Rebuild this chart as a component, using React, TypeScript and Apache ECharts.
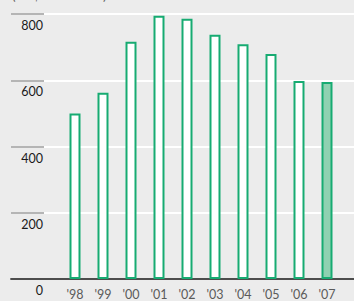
import React, { useEffect, useRef } from "react";
import * as echarts from "echarts";

const categories = ["'98", "'99", "'00", "'01", "'02", "'03", "'04", "'05", "'06", "'07"];
const values = [500, 562, 716, 795, 786, 737, 709, 679, 598, 595];
const yTicks = [0, 200, 400, 600, 800];
const unitLabel = "(US$ in millions)";

const GREEN = "#17ab72";
const FILL_LAST = "#8fd1b1";

export default function App() {
  const ref = useRef<HTMLDivElement>(null);
  useEffect(() => {
    if (!ref.current) return;
    const chart = echarts.init(ref.current, null, { renderer: "svg" });
    const yMin = yTicks[0];
    const yMax = yTicks[yTicks.length - 1];
    const step = yTicks[1] - yTicks[0];
    chart.setOption({
      animation: false,
      backgroundColor: "#ececec",
      grid: [
        { left: 11, right: 0, top: 14, bottom: 22 },
        { left: 44, right: 0, top: 14, bottom: 22 },
        { left: 61, width: 280, top: 14, bottom: 22 },
      ],
      graphic: [
        {
          type: "text",
          left: 12,
          top: -12,
          style: { text: unitLabel, font: "13.5px Lato", fill: "#666" },
        },
      ],
      xAxis: [
        {
          gridIndex: 0,
          type: "value",
          min: 0,
          max: 1,
          z: 5,
          axisLine: { show: true, lineStyle: { color: "#4d4d4d", width: 1.8 } },
          axisTick: { show: false },
          axisLabel: { show: false },
          splitLine: { show: false },
        },
        {
          gridIndex: 1,
          type: "value",
          min: 0,
          max: 1,
          show: false,
        },
        {
          gridIndex: 2,
          type: "category",
          data: categories,
          axisLine: { show: false },
          axisTick: { show: false },
          axisLabel: {
            margin: 9,
            color: "#5a5a5a",
            fontFamily: "Lato",
            fontSize: 12.5,
          },
        },
      ],
      yAxis: [
        {
          gridIndex: 0,
          type: "value",
          min: yMin,
          max: yMax,
          interval: step,
          axisLine: { show: false },
          axisTick: { show: false },
          axisLabel: { show: false },
          splitLine: { show: true, lineStyle: { color: "#b5b5b5", width: 2 } },
        },
        {
          gridIndex: 1,
          type: "value",
          min: yMin,
          max: yMax,
          interval: step,
          axisLine: { show: false },
          axisTick: { show: false },
          axisLabel: {
            show: true,
            margin: 1,
            verticalAlign: "top",
            padding: [5, 0, 0, 0],
            color: "#1a1a1a",
            fontFamily: "Lato",
            fontSize: 12.5,
          },
          splitLine: { show: true, lineStyle: { color: "#ffffff", width: 2 } },
        },
        {
          gridIndex: 2,
          type: "value",
          min: yMin,
          max: yMax,
          interval: step,
          show: false,
        },
      ],
      series: [
        {
          type: "bar",
          xAxisIndex: 2,
          yAxisIndex: 2,
          barWidth: 11,
          z: 6,
          data: values.map((v, i) => ({
            value: v,
            itemStyle: {
              color: i === values.length - 1 ? FILL_LAST : "#ffffff",
              borderColor: GREEN,
              borderWidth: 2,
            },
          })),
        },
      ],
    });
    return () => chart.dispose();
  }, []);
  return (
    <div
      ref={ref}
      style={{ position: "absolute", left: 0, top: 0, width: 354, height: 301 }}
    />
  );
}
